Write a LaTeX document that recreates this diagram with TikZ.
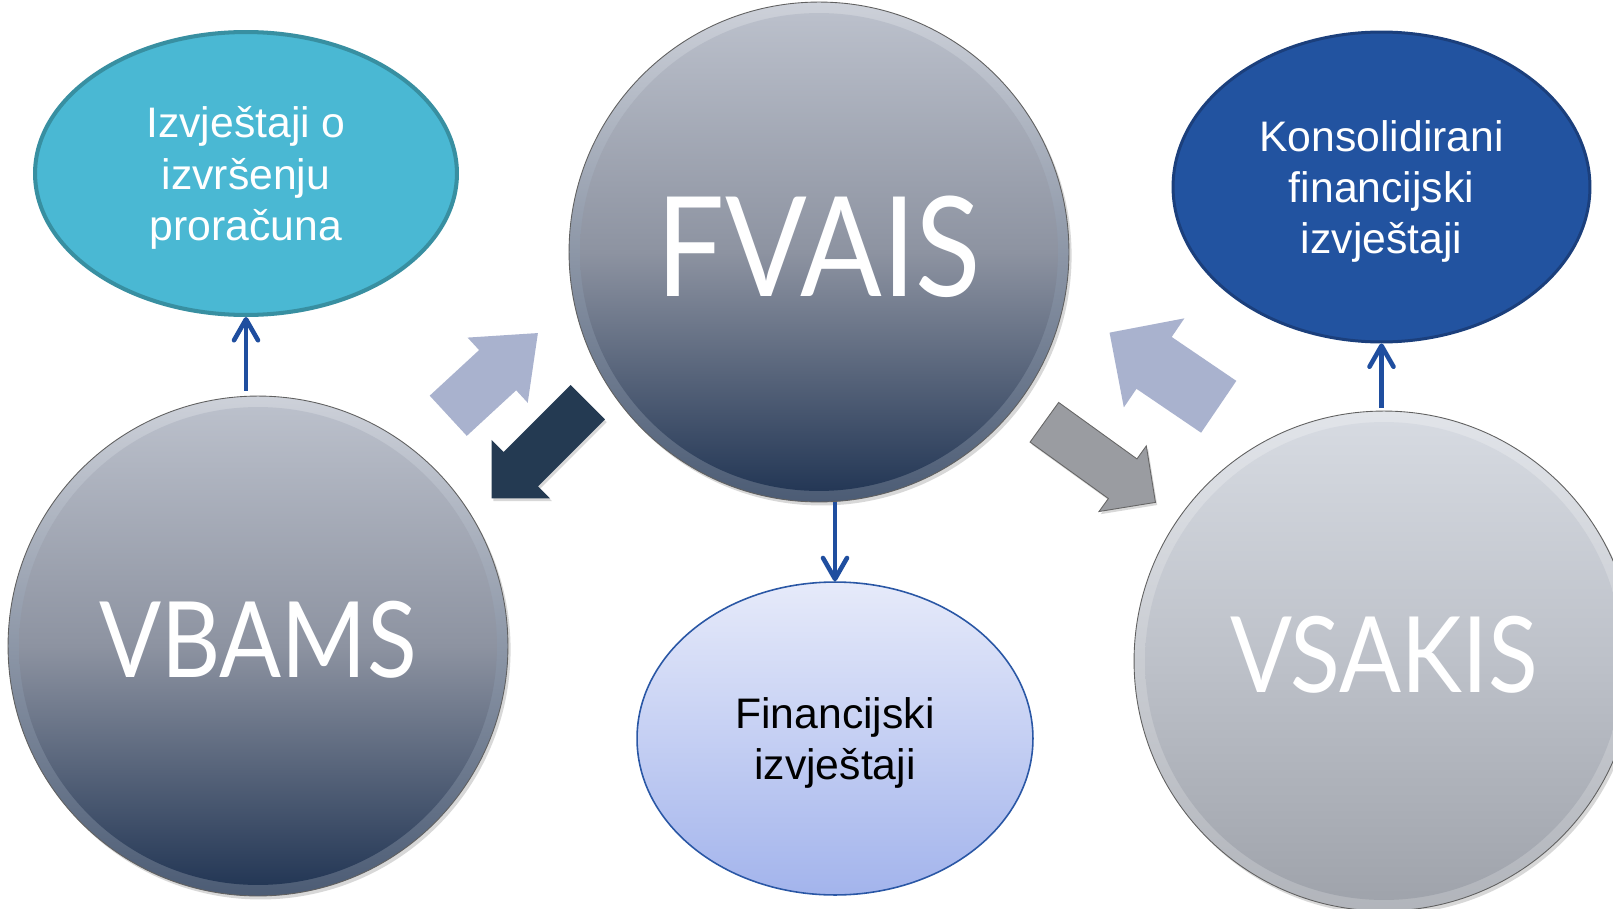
\documentclass[tikz,border=0pt]{standalone}
\usepackage{fontspec}
\setmainfont{Liberation Sans}
\newfontfamily\gillfont[FakeStretch=0.87]{Lato}
\usetikzlibrary{arrows.meta,shapes.geometric,shapes.arrows,shadows}

\definecolor{tealfill}{HTML}{4AB8D3}
\definecolor{tealline}{HTML}{388FA1}
\definecolor{navyfill}{HTML}{2253A0}
\definecolor{navyline}{HTML}{1B3F7C}
\definecolor{connblue}{HTML}{1F4E9F}
\definecolor{lavtop}{HTML}{E6EAFA}
\definecolor{lavbot}{HTML}{A3B4EC}
\definecolor{lavline}{HTML}{2A57A5}
\definecolor{slatetop}{HTML}{BDC2CD}
\definecolor{slatemid}{HTML}{8D93A1}
\definecolor{slatebot}{HTML}{1F3352}
\definecolor{silvtop}{HTML}{D7DBE2}
\definecolor{silvmid}{HTML}{BDC1C9}
\definecolor{silvbot}{HTML}{9EA2AA}
\definecolor{arrlav}{HTML}{A9B2CE}
\definecolor{arrnavy}{HTML}{243A52}
\definecolor{arrgray}{HTML}{9A9CA1}

\tikzset{
  button/.style n args={3}{circle, inner sep=0pt, minimum size=10cm,
    draw=gray!75!black, line width=0.5pt,
    top color=#1!75!white, bottom color=#3!80!white,
    drop shadow={shadow xshift=1.5pt, shadow yshift=-2pt, opacity=.3},
    path picture={
      \shade[top color=#1, bottom color=#3, middle color=#2]
        (path picture bounding box.center) circle (4.78cm);
      \draw[white, opacity=.85, line width=1.2pt, shift={(path picture bounding box.center)}]
        (95:4.76cm) arc[start angle=95, end angle=265, radius=4.76cm];
    },
    text=white, text depth=0.25cm},
  report/.style={ellipse, inner sep=0pt, align=center, text depth=0pt,
    font=\fontsize{24.3}{29.2}\selectfont},
  blockarrow/.style={single arrow, inner xsep=0pt, anchor=tail,
    single arrow tip angle=90},
  conn/.style={connblue, line width=2.6pt,
    -{Straight Barb[length=4.2mm, width=4.8mm, round]}}
}

\begin{document}
\begin{tikzpicture}[x=0.02cm, y=-0.02cm]
  \fill[white] (0,0) rectangle (1613,909);
  \useasboundingbox (0,0) rectangle (1613,909);

  \node[blockarrow, fill=arrlav, minimum height=2.44cm, inner ysep=0.54cm,
        single arrow head extend=0.34cm, single arrow tip angle=78, rotate=42.7]
        (VtoF) at (448,416) {};
  \node[blockarrow, fill=arrnavy, minimum height=2.72cm, inner ysep=0.48cm,
        single arrow head extend=0.34cm, rotate=225,
        drop shadow={shadow xshift=1pt, shadow yshift=-1.5pt, opacity=.3}]
        (FtoV) at (588,402) {};
  \node[blockarrow, fill=arrlav, minimum height=2.64cm, inner ysep=0.62cm,
        single arrow head extend=0.45cm, rotate=145.8]
        (StoF) at (1219,407) {};
  \node[blockarrow, fill=arrgray, draw=gray!80!black, line width=0.5pt,
        minimum height=2.74cm, inner ysep=0.48cm,
        single arrow head extend=0.32cm, rotate=-35.8,
        drop shadow={shadow xshift=1pt, shadow yshift=-1.5pt, opacity=.3}]
        (FtoS) at (1044,422) {};

  \node[button={slatetop}{slatemid}{slatebot},
        font=\gillfont\fontsize{79}{79}\selectfont] (FVAIS) at (819,252) {FVAIS};
  \node[button={slatetop}{slatemid}{slatebot},
        font=\gillfont\fontsize{60}{60}\selectfont] (VBAMS) at (258,646) {VBAMS};
  \node[button={silvtop}{silvmid}{silvbot},
        font=\gillfont\fontsize{60}{60}\selectfont] (VSAKIS) at (1384,661) {VSAKIS};

  \node[report, fill=tealfill, draw=tealline, line width=2.3pt, text=white,
        minimum width=8.44cm, minimum height=5.66cm]
        (IZ) at (246,173.5) {Izvještaji o\\izvršenju\\proračuna};
  \node[report, fill=navyfill, draw=navyline, line width=1.7pt, text=white,
        minimum width=8.34cm, minimum height=6.2cm]
        (KF) at (1381.5,187) {Konsolidirani\\financijski\\izvještaji};
  \node[report, top color=lavtop, bottom color=lavbot, draw=lavline, line width=0.9pt,
        minimum width=7.92cm, minimum height=6.26cm]
        (FI) at (835,738.5) {Financijski\\izvještaji};

  \draw[conn] (IZ.south |- VBAMS.north) ++(0,-5) -- (IZ.south);
  \draw[conn] (FI.north |- FVAIS.south) -- (FI.north);
  \draw[conn] (KF.south |- VSAKIS.north) ++(0,-3) -- (KF.south);
\end{tikzpicture}
\end{document}
